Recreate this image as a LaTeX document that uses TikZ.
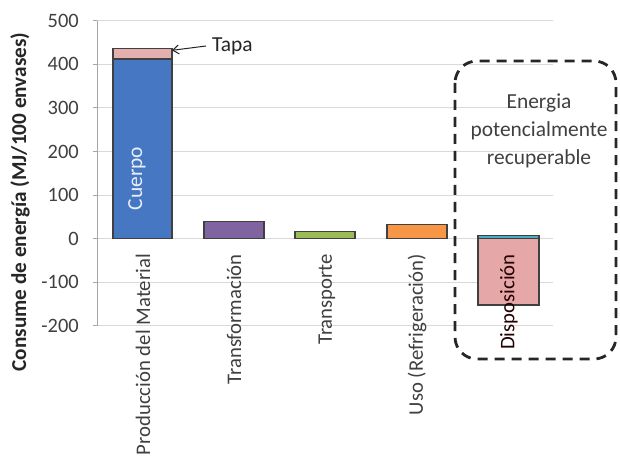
\documentclass[tikz,border=0pt]{standalone}
\usepackage{fontspec}
\setmainfont{Carlito}
\usetikzlibrary{arrows.meta}
\definecolor{gridc}{HTML}{D9D9D9}
\definecolor{axisc}{HTML}{A6A6A6}
\definecolor{txt}{HTML}{404040}
\definecolor{ttl}{HTML}{262626}
\definecolor{cblue}{HTML}{4677C2}
\definecolor{cpinklid}{HTML}{E3AFAF}
\definecolor{cpurple}{HTML}{8064A2}
\definecolor{cgreen}{HTML}{9BBB59}
\definecolor{corange}{HTML}{F79646}
\definecolor{cpink}{HTML}{E6A7A8}
\definecolor{cteal}{HTML}{4BACC6}
\definecolor{barline}{HTML}{404040}
\tikzset{
  gridline/.style={draw=gridc, line width=1bp},
  barbox/.style={draw=barline, line width=1.2bp},
  ticklab/.style={anchor=east, text=txt, font=\fontsize{20.5}{24}\selectfont, inner sep=0pt},
  catlab/.style={rotate=90, anchor=east, text=txt, font=\fontsize{20.8}{24}\selectfont, inner sep=0pt},
}
\begin{document}
\begin{tikzpicture}[x=1bp,y=-1bp]
\useasboundingbox (0,0) rectangle (620,459);
\fill[white] (0,0) rectangle (620,459);
\begin{scope}[shift={(0,238.7)}, y=0.436bp]
  % gridlines
  \foreach \v in {-200,-100,100,200,300,400,500}
    \draw[gridline] (97,\v) -- (553,\v);
  \draw[gridline] (97,0) -- (553,0);
  % axis
  \draw[axisc, line width=1bp] (97,-200) -- (97,500);
  \foreach \v in {-200,-100,0,100,200,300,400,500}
    \draw[axisc, line width=1bp] (93,\v) -- (97,\v);
  % tick labels
  \foreach \v in {-200,-100,0,100,200,300,400,500}
    \node[ticklab] (t\v) at (79,\v) {\v};
  % bars
  \draw[barbox, fill=cblue] (113,0) rectangle (172,412);
  \draw[barbox, fill=cpinklid] (113,412) rectangle (172,436);
  \coordinate (lid) at (172,432);
  \draw[barbox, fill=cpurple] (204,0) rectangle (264,39);
  \draw[barbox, fill=cgreen] (295,0) rectangle (355,16);
  \draw[barbox, fill=corange] (387,0) rectangle (447,33);
  \draw[barbox, fill=cpink] (478,0) rectangle (539,-152);
  \draw[barbox, fill=cteal] (478,0) rectangle (539,8);
  % Cuerpo
  \node[rotate=90, text=white!88!cblue, font=\fontsize{21.5}{24}\selectfont, inner sep=0pt] (cuerpo) at (137,138) {Cuerpo};
\end{scope}
% Tapa
\node[anchor=west, text=ttl, font=\fontsize{21.5}{24}\selectfont, inner sep=0pt] (tapa) at (212,46) {Tapa};
\draw[-{Straight Barb[length=6bp,width=9bp]}, line width=1bp, black!85] (tapa.west) ++(-6,0) coordinate (tapaend) -- (lid);
% category labels
\node[catlab] (c1) at (143,254) {Producción del Material};
\node[catlab] (c2) at (234,254) {Transformación};
\node[catlab] (c3) at (327,254) {Transporte};
\node[catlab] (c4) at (417,254) {Uso (Refrigeración)};
\node[catlab, text=black!75!red!55!black] (c5) at (509,254) {Disposición};
% y title
\node[rotate=90, text=ttl, font=\bfseries\fontsize{21.3}{24}\selectfont, inner sep=0pt] (ytitle) at (20,202) {Consume de energía (MJ/100 envases)};
% dashed box
\draw[dashed, line width=2.8bp, dash pattern=on 10bp off 7bp, rounded corners=22bp, black!85] (455,61) rectangle (616,359);
\node[align=center, text=txt, font=\fontsize{21.5}{28}\selectfont, inner sep=0pt] (ener) at (539,131) {Energia\\potencialmente\\recuperable};
\end{tikzpicture}
\end{document}
